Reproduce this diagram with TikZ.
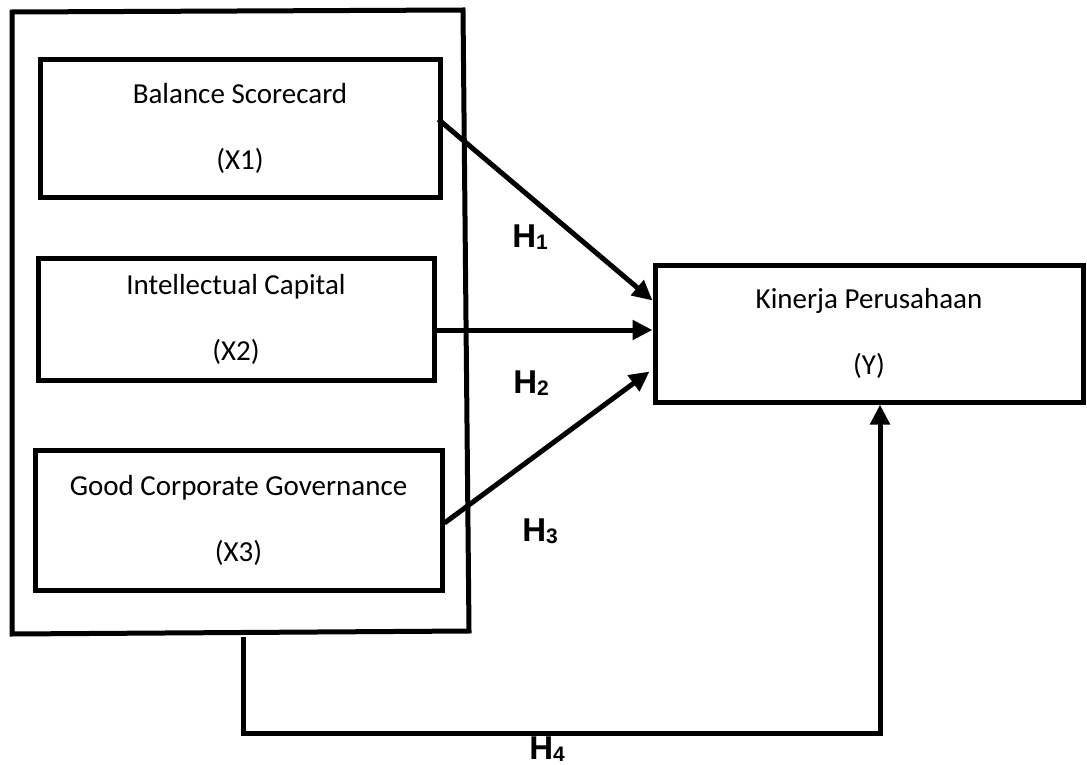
\documentclass[tikz,border=0pt]{standalone}
\usepackage{fontspec}
\setmainfont{Carlito}
\newfontfamily\hypfont{Liberation Sans}
\usetikzlibrary{arrows.meta,calc}
\begin{document}
\begin{tikzpicture}[x=0.5pt,y=-0.5pt,
  varbox/.style={draw,line width=2.5pt,align=center,inner sep=0pt,
    font=\fontsize{14.5}{17.5}\selectfont},
  hyplabel/.style={font=\hypfont\bfseries\fontsize{16.5}{17}\selectfont},
  link/.style={line width=2.5pt,-{Triangle[length=10pt,width=9.5pt]}}]
\useasboundingbox (0,0) rectangle (1087,765);
% frame round the three variables
\coordinate (tl) at (12,12);
\coordinate (tr) at (463,10);
\coordinate (br) at (469,631);
\coordinate (bl) at (12,634);
\draw[line width=2.5pt] (tl) -- (tr) -- (br) -- (bl) -- cycle;
\node[varbox,minimum width=200pt,minimum height=68.5pt] (bsc) at (240,128.5) {Balance Scorecard\\[15.5pt](X1)};
\node[varbox,minimum width=198pt,minimum height=61pt] (ic) at (236,319) {Intellectual Capital\\[15.5pt](X2)};
\node[varbox,minimum width=203.5pt,minimum height=70pt] (gcg) at (238.5,520) {Good Corporate Governance\\[15.5pt](X3)};
\node[varbox,minimum width=214pt,minimum height=68.5pt] (kp) at (869,333.5) {Kinerja Perusahaan\\[15.5pt](Y)};
% hypotheses
\draw[link] ($(bsc.east)+(-4,-9)$) -- ($(kp.west)+(0,-33)$);
\draw[link] ($(ic.east)+(0,11)$) -- ($(kp.west)+(0,-3.5)$);
\draw[link] ($(gcg.east)+(0,3)$) -- ($(kp.west)+(-3,38)$);
\coordinate (h4) at (243,637);
\coordinate (kpin) at ($(kp.south)+(11,0)$);
\draw[link] (h4) -- (243,733) -| (kpin);
\node[hyplabel] (h1) at (530,237) {H{\fontsize{10.5}{11}\selectfont\raisebox{-0.8pt}{1}}};
\node[hyplabel] (h2) at (531,383) {H{\fontsize{10.5}{11}\selectfont\raisebox{-0.8pt}{2}}};
\node[hyplabel] (h3) at (540,531) {H{\fontsize{10.5}{11}\selectfont\raisebox{-0.8pt}{3}}};
\node[hyplabel] (h4lab) at (547,749) {H{\fontsize{10.5}{11}\selectfont\raisebox{-0.8pt}{4}}};
\end{tikzpicture}
\end{document}
